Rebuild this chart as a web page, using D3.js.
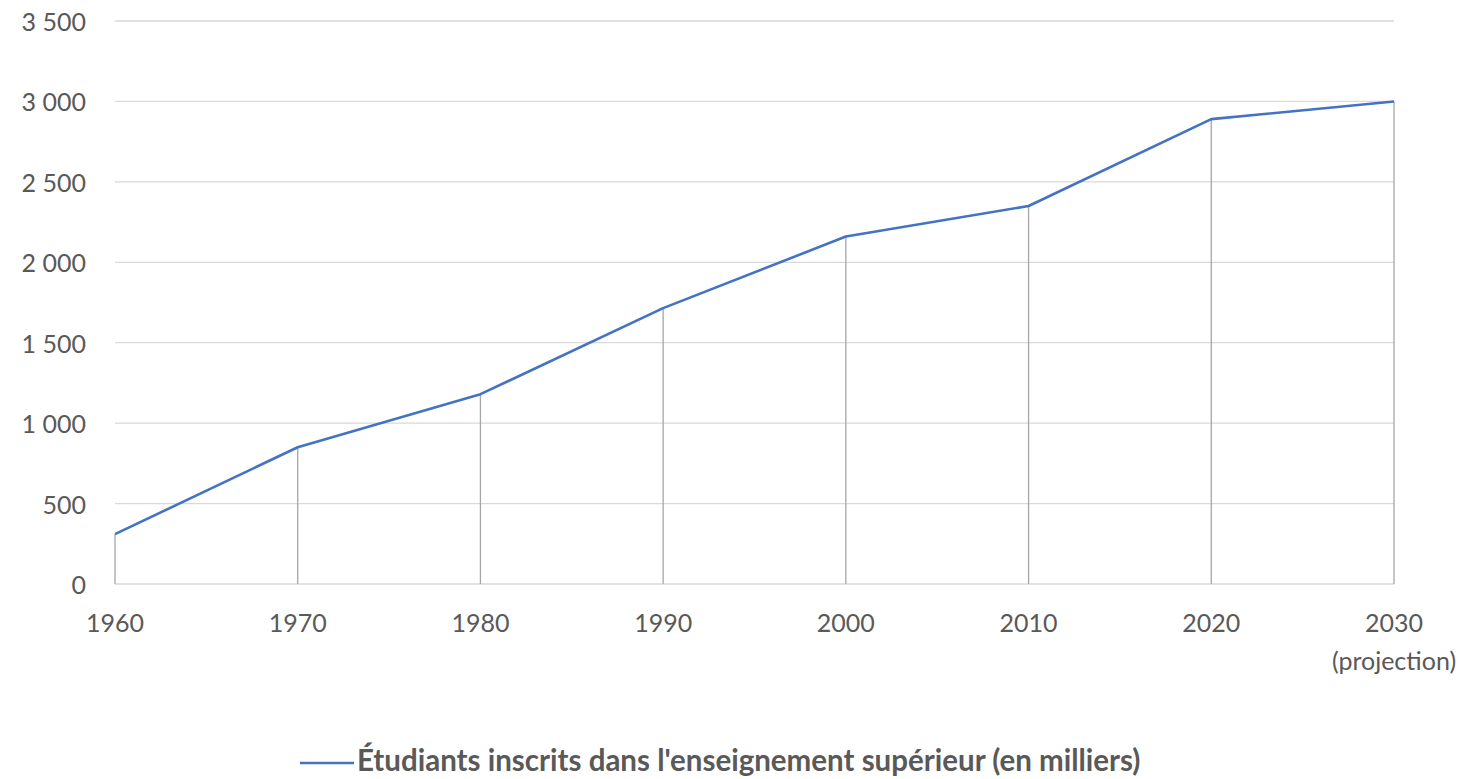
<!DOCTYPE html>
<html>
<head>
<meta charset="utf-8">
<script src="https://cdn.jsdelivr.net/npm/d3@7"></script>
<style>
  body { margin: 0; background: #fff; }
  text { font-family: Lato, "Open Sans", sans-serif; fill: #595959; }
</style>
</head>
<body>
<div id="chart"></div>
<script>
// data
var years = ["1960", "1970", "1980", "1990", "2000", "2010", "2020", "2030"];
var students = [310, 850, 1180, 1715, 2160, 2350, 2890, 3000];
var yTicks = [0, 500, 1000, 1500, 2000, 2500, 3000, 3500];
var seriesName = "Étudiants inscrits dans l'enseignement supérieur (en milliers)";

var width = 1467, height = 779;
var margin = {top: 21, right: 73, bottom: 195, left: 115};

var svg = d3.select("#chart").append("svg")
  .attr("width", width)
  .attr("height", height);

var x = d3.scalePoint()
  .domain(years)
  .range([margin.left, width - margin.right]);

var y = d3.scaleLinear()
  .domain([0, 3500])
  .range([height - margin.bottom, margin.top]);

var fmt = function(d) { return d3.format(",")(d).replace(/,/g, " "); };

// gridlines
svg.append("g")
  .selectAll("line")
  .data(yTicks)
  .enter().append("line")
  .attr("x1", margin.left)
  .attr("x2", width - margin.right)
  .attr("y1", d => y(d))
  .attr("y2", d => y(d))
  .style("stroke", "#d9d9d9")
  .style("stroke-width", 1.3);

// y labels
svg.append("g")
  .selectAll("text")
  .data(yTicks)
  .enter().append("text")
  .attr("x", 86)
  .attr("y", d => y(d))
  .attr("text-anchor", "end")
  .attr("dominant-baseline", "central")
  .style("font-size", "25px")
  .text(fmt);

// drop lines
svg.append("g")
  .selectAll("line")
  .data(years)
  .enter().append("line")
  .attr("x1", d => x(d))
  .attr("x2", d => x(d))
  .attr("y1", (d, i) => y(students[i]))
  .attr("y2", y(0))
  .style("stroke", "#a6a6a6")
  .style("stroke-width", 1.3);

// x labels
svg.append("g")
  .selectAll("text")
  .data(years)
  .enter().append("text")
  .attr("x", d => x(d))
  .attr("y", 622)
  .attr("text-anchor", "middle")
  .attr("dominant-baseline", "central")
  .style("font-size", "25px")
  .text(d => d);
svg.append("text")
  .attr("x", x("2030"))
  .attr("y", 660)
  .attr("text-anchor", "middle")
  .attr("dominant-baseline", "central")
  .style("font-size", "25px")
  .text("(projection)");

// line
var line = d3.line()
  .x((d, i) => x(years[i]))
  .y(d => y(d));

svg.append("path")
  .datum(students)
  .attr("d", line)
  .style("fill", "none")
  .style("stroke", "#4472c4")
  .style("stroke-width", 2.6)
  .style("stroke-linejoin", "round");

// legend
var leg = svg.append("g");
leg.append("line")
  .attr("x1", 300).attr("x2", 354)
  .attr("y1", 763).attr("y2", 763)
  .style("stroke", "#4472c4")
  .style("stroke-width", 2.6);
leg.append("text")
  .attr("x", 357)
  .attr("y", 771)
  .style("font-size", "29.5px")
  .style("font-weight", "bold")
  .text(seriesName);
</script>
</body>
</html>
